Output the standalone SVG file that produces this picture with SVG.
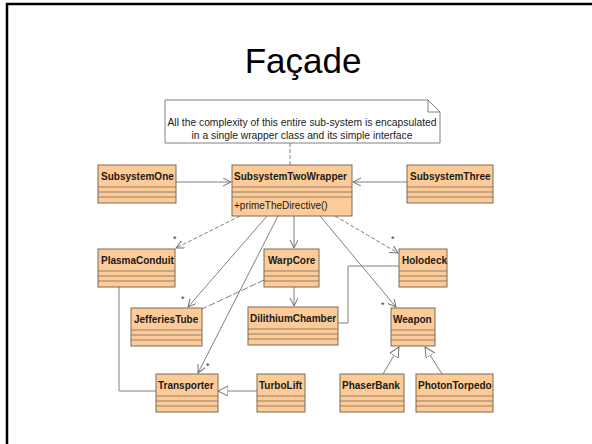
<svg xmlns="http://www.w3.org/2000/svg" width="592" height="444" viewBox="0 0 592 444">
<style>
.box{fill:#fccb98;stroke:#7f6a55;stroke-width:1}
.sep{stroke:#7f6a55;stroke-width:0.8;fill:none}
.nm{font-family:"Liberation Sans",Arial,sans-serif;font-size:10px;font-weight:bold;fill:#1a1a1a}
.op{font-family:"Liberation Sans",Arial,sans-serif;font-size:10px;fill:#1a1a1a}
.nt{font-family:"Liberation Sans",Arial,sans-serif;font-size:10.3px;fill:#222}
.ln{stroke:#808080;stroke-width:1;fill:none}
.dash{stroke-dasharray:4,2}
.star{font-family:"Liberation Sans",Arial,sans-serif;font-size:9px;fill:#333}
</style>
<defs>
<marker id="open" markerUnits="userSpaceOnUse" markerWidth="10" markerHeight="10" refX="8" refY="4" orient="auto">
<path d="M0,0 L8,4 L0,8" fill="none" stroke="#707070" stroke-width="1"/>
</marker>
<marker id="tri" markerUnits="userSpaceOnUse" markerWidth="12" markerHeight="12" refX="10" refY="5" orient="auto">
<path d="M0,0 L10,5 L0,10 Z" fill="#fff" stroke="#707070" stroke-width="1"/>
</marker>
</defs>
<rect width="592" height="444" fill="#fff"/>
<path d="M7,444 V4 H592" fill="none" stroke="#000" stroke-width="2.5"/>
<text x="303" y="73" text-anchor="middle" font-family="'Liberation Sans',Arial,sans-serif" font-size="35" fill="#000">Façade</text>

<g id="connectors">
<path class="ln dash" d="M290,143 V165"/>
<path class="ln" d="M176,182 H231" marker-end="url(#open)"/>
<path class="ln" d="M407,182 H353" marker-end="url(#open)"/>
<path class="ln dash" d="M240,216 L176,248" marker-end="url(#open)"/>
<path class="ln" d="M267,216 L188,307" marker-end="url(#open)"/>
<path class="ln" d="M278,216 L198,373" marker-end="url(#open)"/>
<path class="ln" d="M294,216 V248" marker-end="url(#open)"/>
<path class="ln" d="M294,287 V306" marker-end="url(#open)"/>
<path class="ln" d="M320,216 L396,307" marker-end="url(#open)"/>
<path class="ln dash" d="M335,216 L398,253" marker-end="url(#open)"/>
<path class="ln" style="stroke-dasharray:7,2" d="M264,280 L202,309"/>
<path class="ln" d="M399,266 H348 V323 H338"/>
<path class="ln" d="M119,287 V391 H156"/>
<path class="ln" d="M257,391 H218" marker-end="url(#tri)"/>
<path class="ln" d="M383,374 L399,347" marker-end="url(#tri)"/>
<path class="ln" d="M442,374 L425,347" marker-end="url(#tri)"/>
<text class="star" x="173" y="242">*</text>
<text class="star" x="181" y="302">*</text>
<text class="star" x="206" y="369">*</text>
<text class="star" x="381" y="308">*</text>
<text class="star" x="391" y="242">*</text>
</g>

<g id="note">
<path d="M165,100 H428 L440,112 V143 H165 Z" fill="#fff" stroke="#808080" stroke-width="1"/>
<path d="M428,100 V112 H440" fill="none" stroke="#808080" stroke-width="1"/>
<text class="nt" x="302" y="126" text-anchor="middle">All the complexity of this entire sub-system is encapsulated</text>
<text class="nt" x="302" y="139" text-anchor="middle">in a single wrapper class and its simple interface</text>
</g>

<g id="SubsystemOne">
<rect class="box" x="98" y="165" width="78" height="38"/>
<path class="sep" d="M98,187 H176 M98,192 H176 M98,197 H176"/>
<text class="nm" x="101" y="180">SubsystemOne</text>
</g>
<g id="SubsystemTwoWrapper">
<rect class="box" x="232" y="165" width="120" height="51"/>
<path class="sep" d="M232,187 H352 M232,192 H352 M232,197 H352"/>
<text class="nm" x="234" y="180">SubsystemTwoWrapper</text>
<text class="op" x="234" y="209">+primeTheDirective()</text>
</g>
<g id="SubsystemThree">
<rect class="box" x="407" y="165" width="86" height="38"/>
<path class="sep" d="M407,187 H493 M407,192 H493 M407,197 H493"/>
<text class="nm" x="410" y="180">SubsystemThree</text>
</g>
<g id="PlasmaConduit">
<rect class="box" x="98" y="249" width="77" height="38"/>
<path class="sep" d="M98,271 H175 M98,276 H175 M98,281 H175"/>
<text class="nm" x="101" y="264">PlasmaConduit</text>
</g>
<g id="WarpCore">
<rect class="box" x="264" y="249" width="55" height="38"/>
<path class="sep" d="M264,271 H319 M264,276 H319 M264,281 H319"/>
<text class="nm" x="268" y="264">WarpCore</text>
</g>
<g id="Holodeck">
<rect class="box" x="399" y="249" width="48" height="38"/>
<path class="sep" d="M399,271 H447 M399,276 H447 M399,281 H447"/>
<text class="nm" x="402" y="264">Holodeck</text>
</g>
<g id="JefferiesTube">
<rect class="box" x="131" y="308" width="71" height="38"/>
<path class="sep" d="M131,330 H202 M131,335 H202 M131,340 H202"/>
<text class="nm" x="134" y="323">JefferiesTube</text>
</g>
<g id="DilithiumChamber">
<rect class="box" x="248" y="307" width="90" height="38"/>
<path class="sep" d="M248,329 H338 M248,334 H338 M248,339 H338"/>
<text class="nm" x="250" y="322">DilithiumChamber</text>
</g>
<g id="Weapon">
<rect class="box" x="391" y="308" width="44" height="38"/>
<path class="sep" d="M391,330 H435 M391,335 H435 M391,340 H435"/>
<text class="nm" x="393" y="323">Weapon</text>
</g>
<g id="Transporter">
<rect class="box" x="156" y="374" width="62" height="38"/>
<path class="sep" d="M156,396 H218 M156,401 H218 M156,406 H218"/>
<text class="nm" x="158" y="389">Transporter</text>
</g>
<g id="TurboLift">
<rect class="box" x="257" y="374" width="48" height="38"/>
<path class="sep" d="M257,396 H305 M257,401 H305 M257,406 H305"/>
<text class="nm" x="259" y="389">TurboLift</text>
</g>
<g id="PhaserBank">
<rect class="box" x="340" y="374" width="64" height="38"/>
<path class="sep" d="M340,396 H404 M340,401 H404 M340,406 H404"/>
<text class="nm" x="342" y="389">PhaserBank</text>
</g>
<g id="PhotonTorpedo">
<rect class="box" x="416" y="374" width="77" height="38"/>
<path class="sep" d="M416,396 H493 M416,401 H493 M416,406 H493"/>
<text class="nm" x="418" y="389">PhotonTorpedo</text>
</g>
</svg>
